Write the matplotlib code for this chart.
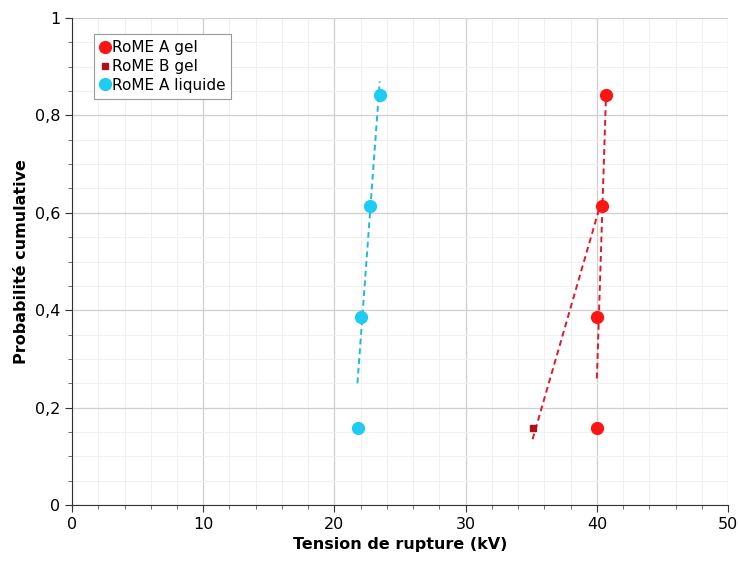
import matplotlib.pyplot as plt
from matplotlib.ticker import MultipleLocator, FuncFormatter

# Probabilities (median ranks) and breakdown voltages (kV)
prob = [0.159, 0.386, 0.614, 0.841]
a_gel = [40.0, 40.0, 40.4, 40.7]
b_gel_x = [35.1]
b_gel_y = [0.159]
a_liq = [21.8, 22.0, 22.7, 23.5]

# fitted lines (end points)
fit_a_gel_x = [40.0, 40.7]
fit_a_gel_y = [0.26, 0.845]
fit_b_gel_x = [35.1, 40.3]
fit_b_gel_y = [0.135, 0.62]
fit_a_liq_x = [21.75, 23.45]
fit_a_liq_y = [0.25, 0.87]

red = '#ff1414'
line_red = '#e0182c'
dark_red = '#b0101c'
cyan = '#1ecbf2'

plt.rcParams['font.family'] = 'DejaVu Sans'
fig = plt.figure(figsize=(7.38, 5.64), dpi=100)
ax = fig.add_axes([0.0976, 0.1046, 0.889, 0.8634])

ax.plot(fit_a_gel_x, fit_a_gel_y, color=line_red, lw=1.4, dashes=(3, 2), zorder=3)
ax.plot(fit_b_gel_x, fit_b_gel_y, color=line_red, lw=1.4, dashes=(3, 2), zorder=3)
ax.plot(fit_a_liq_x, fit_a_liq_y, color='#22b8d8', lw=1.4, dashes=(3, 2), zorder=3)

ax.plot(a_gel, prob, 'o', color=red, mec=red, ms=8.5, label='RoME A gel', zorder=4)
ax.plot(b_gel_x, b_gel_y, 's', color=dark_red, mec=dark_red, ms=5, label='RoME B gel', zorder=4)
ax.plot(a_liq, prob, 'o', color=cyan, mec=cyan, ms=8.5, label='RoME A liquide', zorder=4)

ax.set_xlim(0, 50)
ax.set_ylim(0, 1)
ax.xaxis.set_major_locator(MultipleLocator(10))
ax.xaxis.set_minor_locator(MultipleLocator(2))
ax.yaxis.set_major_locator(MultipleLocator(0.2))
ax.yaxis.set_minor_locator(MultipleLocator(0.05))
ax.yaxis.set_major_formatter(FuncFormatter(lambda v, p: ('%g' % round(v, 2)).replace('.', ',')))

ax.grid(which='major', color='#cfcfcf', lw=0.9)
ax.grid(which='minor', color='#f0f0f0', lw=0.8)
ax.set_axisbelow(True)

for s in ['top', 'right']:
    ax.spines[s].set_visible(False)
ax.spines['left'].set_color('#333333')
ax.spines['bottom'].set_color('#333333')
ax.tick_params(which='major', length=5, labelsize=11.5, color='#333333')
ax.tick_params(which='minor', length=3, color='#555555')

ax.set_xlabel('Tension de rupture (kV)', fontsize=11.5, fontweight='bold')
ax.set_ylabel('Probabilité cumulative', fontsize=11.5, fontweight='bold')

leg = ax.legend(loc='upper left', bbox_to_anchor=(0.022, 0.983), fontsize=11,
                handlelength=0.6, handletextpad=0.15, borderpad=0.4,
                labelspacing=0.25, fancybox=False, edgecolor='#999999',
                framealpha=1)
leg.get_frame().set_linewidth(0.8)

fig.savefig('out.png', dpi=100)
